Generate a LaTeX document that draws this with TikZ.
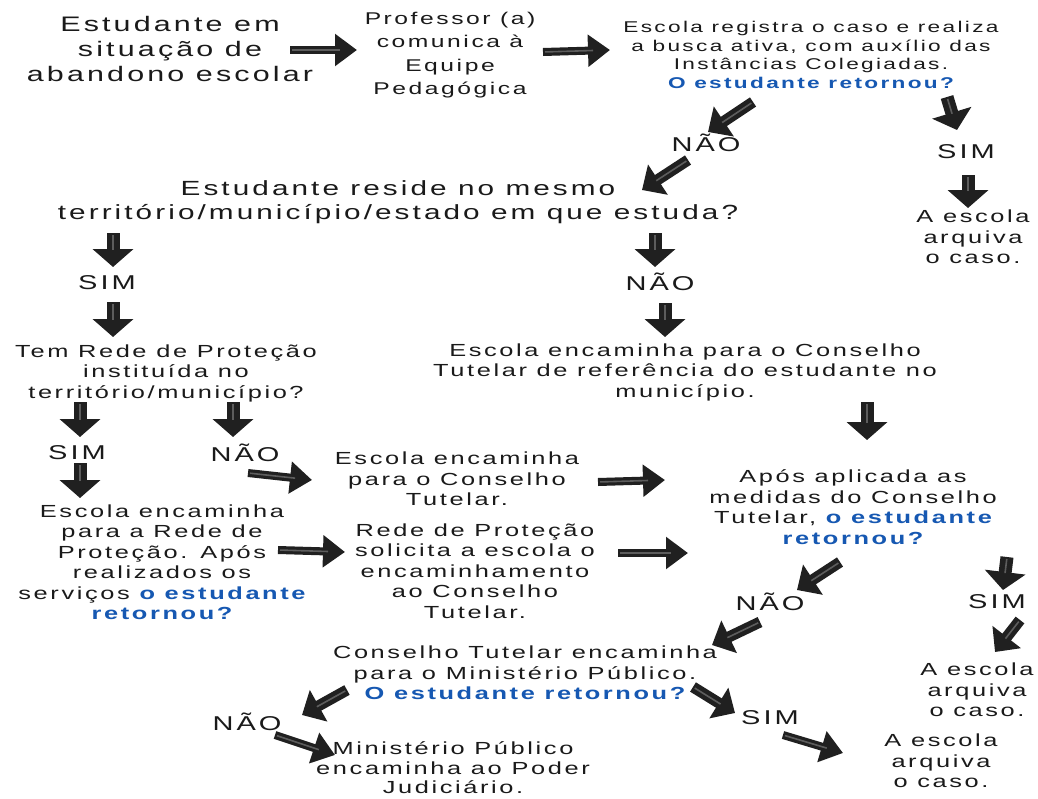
\documentclass[tikz,border=0pt]{standalone}
\usepackage{fontspec}
\setmainfont{Liberation Sans}[FakeStretch=1.45, LetterSpace=15]
\usetikzlibrary{arrows.meta}
\definecolor{ink}{RGB}{26,26,26}
\definecolor{qblue}{RGB}{22,88,178}
\definecolor{arr}{RGB}{32,32,32}
\definecolor{streakc}{RGB}{120,120,120}
\newcommand{\q}[1]{\textcolor{qblue}{\bfseries #1}}
\newcommand{\skarrow}[4]{%
  \coordinate (#2t) at (#3); \coordinate (#2h) at (#4);
  \draw[#1] (#2t) -- (#2h);
  \draw[streak] (#2t) -- (#2h);}
\tikzset{
  txt/.style={align=center, inner sep=0pt, text=ink, font=\fontsize{17.5}{20.5}\selectfont},
  bigtxt/.style={txt, font=\fontsize{20.5}{24.5}\selectfont},
  smalltxt/.style={txt, font=\fontsize{15.6}{18.6}\selectfont},
  lab/.style={txt, font=\fontsize{20}{24}\selectfont},
  harr/.style={draw=arr, line width=8pt, -{Triangle[width=31pt,length=22pt]}},
  varr/.style={draw=arr, line width=13pt, -{Triangle[width=40pt,length=18pt]}},
  darr/.style={draw=arr, line width=11pt, -{Triangle[width=35pt,length=19pt]}},
  streak/.style={draw=streakc, line width=1.6pt, opacity=0.7, shorten >=17pt, shorten <=2pt},
}
\begin{document}
\begin{tikzpicture}[x=1pt, y=-1pt]
\useasboundingbox (0,0) rectangle (1038,798);
\clip (0,0) rectangle (1038,798);
\fill[white] (0,0) rectangle (1038,798);

% texts
\node[bigtxt, font=\fontsize{21}{25}\selectfont] (n1) at (170,49) {Estudante em\\situação de\\abandono escolar};
\node[txt, font=\fontsize{17}{23.5}\selectfont] (n2) at (450,55) {Professor (a)\\comunica à\\Equipe\\Pedagógica};
\node[smalltxt] (n3) at (811,55) {Escola registra o caso e realiza\\a busca ativa, com auxílio das\\Instâncias Colegiadas.\\\q{O estudante retornou?}};
\node[lab] (l1) at (706,143) {NÃO};
\node[lab] (l2) at (966,152) {SIM};
\node[bigtxt] (n4) at (398,202) {Estudante reside no mesmo\\território/município/estado em que estuda?};
\node[txt] (n5) at (973,237) {A escola\\arquiva\\o caso.};
\node[lab] (l3) at (107,283) {SIM};
\node[lab] (l4) at (660,282) {NÃO};
\node[txt] (n6) at (166,373) {Tem Rede de Proteção\\instituída no\\território/município?};
\node[txt] (n7) at (685,372) {Escola encaminha para o Conselho\\Tutelar de referência do estudante no\\município.};
\node[lab] (l5) at (77,453) {SIM};
\node[lab] (l6) at (245,453) {NÃO};
\node[txt] (n8) at (457,479) {Escola encaminha\\para o Conselho\\Tutelar.};
\node[txt] (n9) at (853,507) {Após aplicada as\\medidas do Conselho\\Tutelar, \q{o estudante}\\\q{retornou?}};
\node[txt] (n10) at (162,562) {Escola encaminha\\para a Rede de\\Proteção. Após\\realizados os\\serviços \q{o estudante}\\\q{retornou?}};
\node[txt] (n11) at (475,571) {Rede de Proteção\\solicita a escola o\\encaminhamento\\ao Conselho\\Tutelar.};
\node[lab] (l7) at (770,602) {NÃO};
\node[lab] (l8) at (997,602) {SIM};
\node[txt] (n12) at (525,673) {Conselho Tutelar encaminha\\para o Ministério Público.\\\q{O estudante retornou?}};
\node[txt] (n13) at (977,690) {A escola\\arquiva\\o caso.};
\node[lab] (l9) at (247,722) {NÃO};
\node[lab] (l10) at (770,718) {SIM};
\node[txt, font=\fontsize{17.5}{19.5}\selectfont] (n14) at (453,768) {Ministério Público\\encaminha ao Poder\\Judiciário.};
\node[txt] (n15) at (941,761) {A escola\\arquiva\\o caso.};

% arrows
\skarrow{harr}{a1}{290,50}{357,50}
\skarrow{harr}{a2}{543,52}{610,50}
\skarrow{darr}{a3}{753,102}{708,132}
\skarrow{varr}{a4}{947,97}{957,130}
\skarrow{darr}{a5}{688,160}{642,190}
\skarrow{varr}{a6}{968,175}{968,208}
\skarrow{varr}{a7}{113,233}{113,267}
\skarrow{varr}{a8}{655,233}{655,267}
\skarrow{varr}{a9}{113,302}{113,337}
\skarrow{varr}{a10}{665,303}{665,337}
\skarrow{varr}{a11}{80,402}{80,437}
\skarrow{varr}{a12}{233,402}{233,437}
\skarrow{varr}{a13}{867,402}{867,440}
\skarrow{varr}{a14}{80,463}{80,498}
\skarrow{harr}{a15}{248,473}{312,480}
\skarrow{harr}{a16}{598,482}{665,480}
\skarrow{harr}{a17}{278,550}{345,552}
\skarrow{harr}{a18}{618,553}{688,553}
\skarrow{darr}{a19}{840,562}{797,590}
\skarrow{varr}{a20}{1007,557}{1003,590}
\skarrow{darr}{a21}{760,622}{712,645}
\skarrow{darr}{a22}{1020,620}{995,652}
\skarrow{darr}{a23}{347,690}{302,715}
\skarrow{darr}{a24}{693,687}{735,713}
\skarrow{harr}{a25}{275,735}{335,755}
\skarrow{harr}{a26}{783,735}{843,753}
\end{tikzpicture}
\end{document}
